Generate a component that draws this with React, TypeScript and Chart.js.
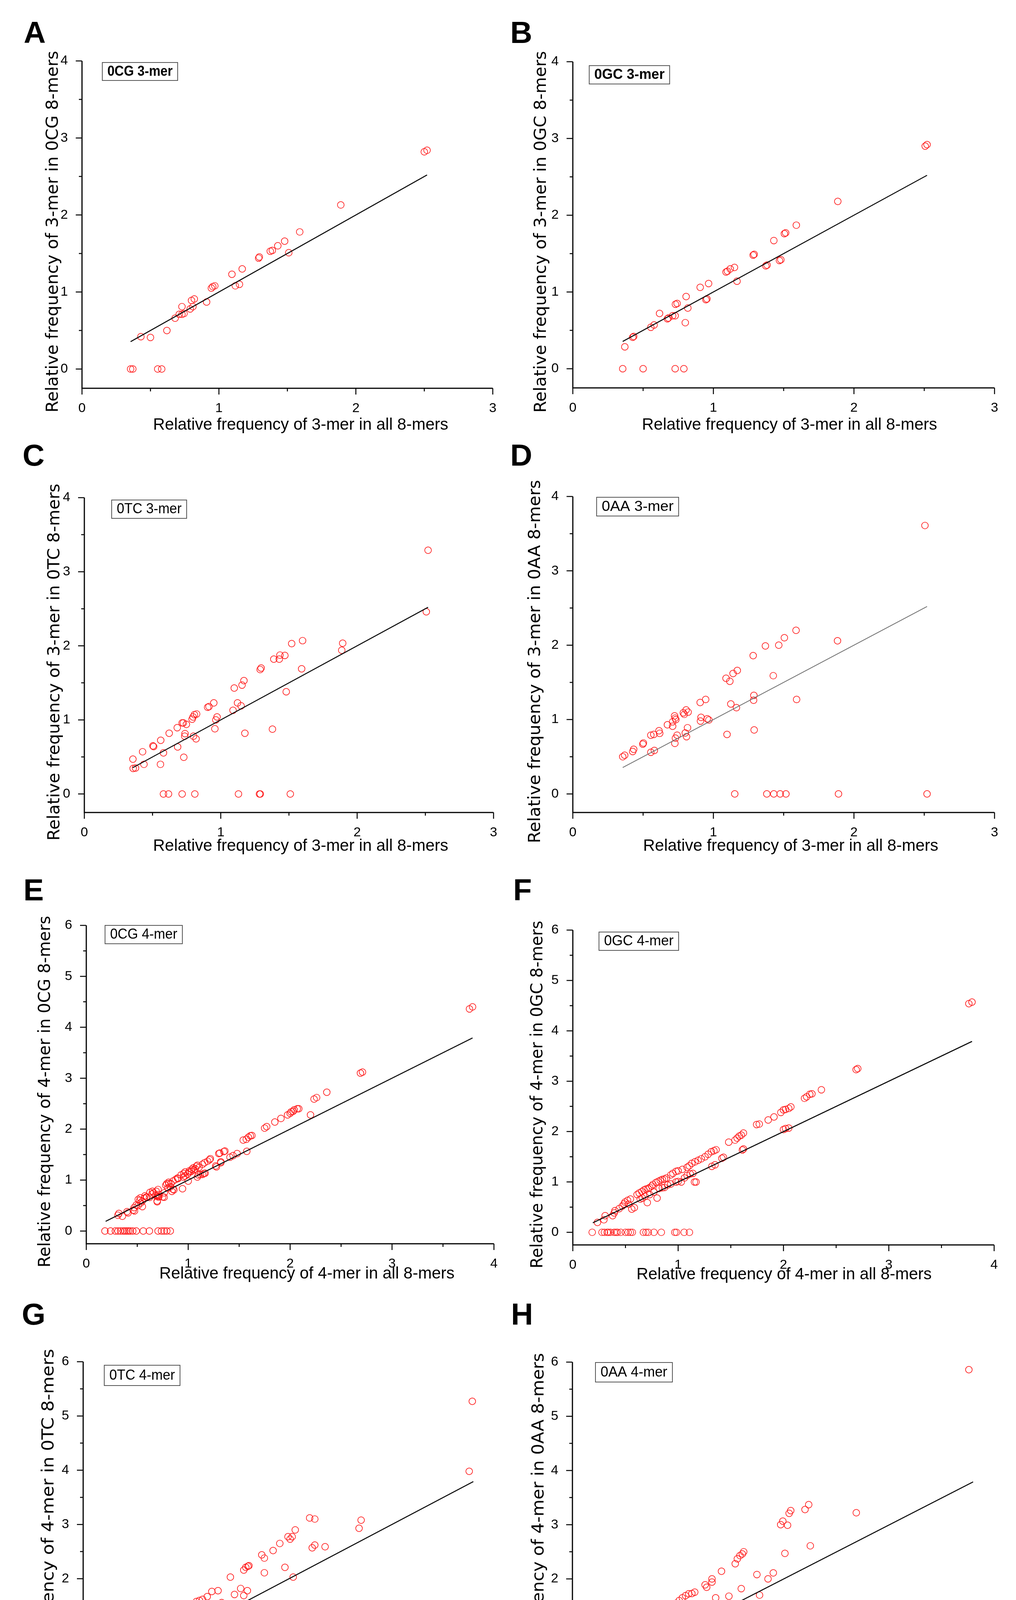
import React, { useEffect, useRef } from "react";
import { Chart, registerables } from "chart.js";
Chart.register(...registerables);

type Pt = [number, number];

// ---------- axis ticks ----------
const xTicks3mer = [0, 1, 2, 3];
const yTicks3mer = [0, 1, 2, 3, 4];
const xTicks4mer = [0, 1, 2, 3, 4];
const yTicks4mer = [0, 1, 2, 3, 4, 5, 6];

// ---------- fitted y = x line ranges ----------
const fitLine3mer = [0.355, 2.52];
const fitLine4mer = [0.19, 3.79];

// ---------- Panel A: 0CG 3-mer ----------
const pointsA: Pt[] = [
  [0.355, 0], [0.371, 0], [0.553, 0], [0.582, 0], [0.43, 0.42], [0.5, 0.41], [0.62, 0.5], [0.68, 0.66],
  [0.71, 0.71], [0.73, 0.71], [0.745, 0.72], [0.73, 0.81], [0.79, 0.78], [0.81, 0.81], [0.8, 0.89],
  [0.82, 0.91], [0.91, 0.87], [0.945, 1.05], [0.955, 1.07], [0.97, 1.08], [1.095, 1.23], [1.12, 1.08],
  [1.15, 1.1], [1.17, 1.3], [1.29, 1.44], [1.295, 1.455], [1.375, 1.53], [1.39, 1.54], [1.43, 1.6],
  [1.48, 1.66], [1.51, 1.51], [1.59, 1.78], [1.89, 2.13], [2.5, 2.82], [2.52, 2.84],
];

// ---------- Panel B: 0GC 3-mer ----------
const pointsB: Pt[] = [
  [0.355, 0], [0.5, 0], [0.728, 0], [0.79, 0], [0.37, 0.285], [0.426, 0.41], [0.433, 0.42], [0.555, 0.54],
  [0.578, 0.57], [0.617, 0.72], [0.673, 0.65], [0.68, 0.66], [0.71, 0.69], [0.728, 0.69], [0.73, 0.84],
  [0.742, 0.85], [0.8, 0.6], [0.806, 0.94], [0.818, 0.79], [0.906, 1.06], [0.947, 0.9], [0.954, 0.91],
  [0.966, 1.11], [1.09, 1.26], [1.1, 1.27], [1.12, 1.3], [1.15, 1.32], [1.168, 1.14], [1.283, 1.48],
  [1.29, 1.49], [1.373, 1.34], [1.382, 1.35], [1.43, 1.67], [1.47, 1.41], [1.48, 1.42], [1.505, 1.76],
  [1.514, 1.77], [1.59, 1.87], [1.885, 2.18], [2.507, 2.9], [2.52, 2.92],
];

// ---------- Panel C: 0TC 3-mer ----------
const zerosC = [0.58, 0.617, 0.717, 0.81, 1.13, 1.284, 1.29, 1.51];
const pointsC: Pt[] = [
  [0.356, 0.47], [0.358, 0.345], [0.375, 0.35], [0.427, 0.57], [0.437, 0.4], [0.503, 0.65], [0.508, 0.64],
  [0.558, 0.4], [0.56, 0.725], [0.58, 0.555], [0.622, 0.82], [0.681, 0.895], [0.684, 0.635], [0.717, 0.96],
  [0.726, 0.96], [0.729, 0.495], [0.736, 0.78], [0.738, 0.815], [0.748, 0.94], [0.79, 1.01], [0.797, 1.04],
  [0.807, 1.07], [0.8, 0.78], [0.819, 0.745], [0.823, 1.08], [0.904, 1.17], [0.914, 1.18], [0.949, 1.23],
  [0.957, 0.88], [0.964, 1.0], [0.973, 1.04], [1.09, 1.13], [1.099, 1.43], [1.123, 1.23], [1.149, 1.19],
  [1.156, 1.47], [1.17, 1.53], [1.177, 0.82], [1.289, 1.68], [1.296, 1.7], [1.379, 0.875], [1.389, 1.82],
  [1.429, 1.82], [1.434, 1.875], [1.47, 1.87], [1.48, 1.38], [1.52, 2.03], [1.593, 1.69], [1.6, 2.07],
  [1.887, 1.94], [1.894, 2.035], [2.507, 2.46], [2.52, 3.29],
];

// ---------- Panel D: 0AA 3-mer ----------
const zerosD = [1.152, 1.38, 1.43, 1.475, 1.516, 1.89, 2.52];
const pointsD: Pt[] = [
  [0.355, 0.5], [0.369, 0.52], [0.426, 0.57], [0.433, 0.6], [0.498, 0.67], [0.502, 0.685], [0.555, 0.56],
  [0.555, 0.79], [0.576, 0.8], [0.58, 0.585], [0.613, 0.85], [0.618, 0.815], [0.673, 0.93], [0.71, 0.91],
  [0.71, 0.97], [0.724, 1.05], [0.728, 1.02], [0.733, 1.0], [0.726, 0.68], [0.73, 0.75], [0.742, 0.79],
  [0.786, 1.09], [0.793, 1.07], [0.806, 1.13], [0.82, 1.1], [0.8, 0.82], [0.809, 0.77], [0.816, 0.89],
  [0.908, 0.98], [0.912, 1.03], [0.906, 1.23], [0.945, 1.27], [0.956, 1.01], [0.968, 0.995], [1.09, 1.555],
  [1.097, 0.8], [1.117, 1.515], [1.124, 1.21], [1.14, 1.62], [1.17, 1.66], [1.164, 1.16], [1.283, 1.86],
  [1.286, 1.26], [1.288, 1.325], [1.29, 0.86], [1.37, 1.99], [1.426, 1.59], [1.465, 2.0], [1.505, 2.1],
  [1.588, 2.2], [1.592, 1.27], [1.883, 2.06], [2.505, 3.61],
];

// ---------- Panel E: 0CG 4-mer ----------
const zerosE = [0.183, 0.238, 0.285, 0.311, 0.337, 0.362, 0.379, 0.397, 0.414, 0.431, 0.456, 0.49, 0.559,
  0.619, 0.704, 0.738, 0.764, 0.79, 0.824];
const pointsE: Pt[] = [
  [0.31, 0.31], [0.32, 0.345], [0.354, 0.29], [0.4, 0.38], [0.41, 0.357], [0.46, 0.41], [0.473, 0.395],
  [0.47, 0.46], [0.49, 0.51], [0.508, 0.5], [0.51, 0.62], [0.525, 0.6], [0.533, 0.55], [0.55, 0.587],
  [0.53, 0.65], [0.55, 0.48], [0.57, 0.645], [0.576, 0.69], [0.59, 0.67], [0.593, 0.66], [0.62, 0.66],
  [0.625, 0.76], [0.644, 0.727], [0.65, 0.78], [0.66, 0.75], [0.68, 0.7], [0.687, 0.778], [0.695, 0.59],
  [0.696, 0.69], [0.696, 0.574], [0.704, 0.816], [0.705, 0.67], [0.71, 0.715], [0.713, 0.676], [0.75, 0.67],
  [0.764, 0.663], [0.765, 0.75], [0.78, 0.9], [0.79, 0.93], [0.8, 0.842], [0.807, 0.957], [0.81, 0.93],
  [0.824, 0.867], [0.83, 0.93], [0.84, 0.778], [0.85, 0.82], [0.85, 0.98], [0.86, 0.81], [0.875, 1.01],
  [0.895, 1.04], [0.9, 1.03], [0.944, 0.83], [0.93, 1.1], [0.952, 1.06], [0.955, 1.13], [0.969, 1.08],
  [0.97, 1.16], [0.995, 1.12], [1.0, 0.98], [1.01, 1.18], [1.01, 1.15], [1.03, 1.17], [1.035, 1.21],
  [1.05, 1.24], [1.055, 1.2], [1.07, 1.22], [1.08, 1.27], [1.09, 1.29], [1.09, 1.06], [1.1, 1.1],
  [1.106, 1.25], [1.12, 1.11], [1.14, 1.31], [1.14, 1.11], [1.155, 1.13], [1.16, 1.34], [1.166, 1.135],
  [1.19, 1.37], [1.21, 1.4], [1.217, 1.42], [1.27, 1.28], [1.277, 1.26], [1.3, 1.52], [1.31, 1.53],
  [1.32, 1.36], [1.32, 1.34], [1.35, 1.56], [1.36, 1.57], [1.41, 1.45], [1.44, 1.48], [1.48, 1.52],
  [1.54, 1.785], [1.57, 1.8], [1.575, 1.565], [1.59, 1.84], [1.61, 1.87], [1.625, 1.875], [1.75, 2.02],
  [1.77, 2.05], [1.85, 2.14], [1.91, 2.21], [1.975, 2.28], [2.0, 2.31], [2.01, 2.34], [2.03, 2.35],
  [2.04, 2.38], [2.07, 2.4], [2.085, 2.4], [2.2, 2.28], [2.235, 2.59], [2.26, 2.62], [2.36, 2.725],
  [2.69, 3.1], [2.71, 3.12], [3.76, 4.36], [3.79, 4.4],
];

// ---------- Panel F: 0GC 4-mer ----------
const zerosF = [0.184, 0.277, 0.3, 0.326, 0.338, 0.357, 0.393, 0.41, 0.424, 0.455, 0.5, 0.525, 0.547, 0.565,
  0.67, 0.695, 0.716, 0.77, 0.84, 0.968, 0.984, 1.057, 1.107];
const pointsF: Pt[] = [
  [0.234, 0.197], [0.295, 0.25], [0.307, 0.33], [0.378, 0.33], [0.393, 0.385], [0.4, 0.43], [0.44, 0.47],
  [0.47, 0.52], [0.486, 0.564], [0.495, 0.6], [0.52, 0.635], [0.547, 0.66], [0.56, 0.46], [0.584, 0.49],
  [0.53, 0.56], [0.61, 0.75], [0.63, 0.78], [0.655, 0.81], [0.676, 0.84], [0.695, 0.86], [0.716, 0.87],
  [0.73, 0.89], [0.75, 0.92], [0.76, 0.95], [0.64, 0.66], [0.66, 0.68], [0.685, 0.715], [0.707, 0.59],
  [0.73, 0.75], [0.77, 0.8], [0.8, 0.68], [0.79, 0.99], [0.81, 1.01], [0.83, 1.03], [0.85, 1.05],
  [0.87, 1.06], [0.89, 1.08], [0.82, 0.87], [0.85, 0.885], [0.87, 0.89], [0.9, 0.94], [0.93, 0.96],
  [0.93, 1.14], [0.95, 1.17], [0.98, 1.21], [1.0, 1.22], [1.04, 1.25], [0.98, 1.0], [1.0, 1.01],
  [1.03, 1.0], [1.06, 1.08], [1.085, 1.13], [1.115, 1.16], [1.14, 1.17], [1.085, 1.29], [1.105, 1.32],
  [1.13, 1.37], [1.155, 1.0], [1.17, 1.0], [1.16, 1.4], [1.19, 1.43], [1.22, 1.46], [1.255, 1.5],
  [1.285, 1.55], [1.315, 1.6], [1.34, 1.62], [1.36, 1.64], [1.32, 1.31], [1.35, 1.34], [1.415, 1.47],
  [1.43, 1.49], [1.48, 1.79], [1.54, 1.83], [1.56, 1.87], [1.58, 1.91], [1.6, 1.93], [1.62, 1.97],
  [1.61, 1.635], [1.62, 1.655], [1.745, 2.14], [1.77, 2.15], [1.855, 2.23], [1.91, 2.29], [1.975, 2.38],
  [2.0, 2.43], [2.02, 2.44], [2.05, 2.46], [2.07, 2.49], [2.0, 2.04], [2.02, 2.06], [2.05, 2.07],
  [2.2, 2.66], [2.22, 2.69], [2.25, 2.74], [2.27, 2.75], [2.36, 2.83], [2.69, 3.23], [2.705, 3.25],
  [3.76, 4.54], [3.79, 4.57],
];

// ---------- Panel G: 0TC 4-mer ----------
const zerosG = [0.37, 0.39, 0.4, 0.42, 0.44, 0.456, 0.47, 0.5, 0.54, 0.61, 0.627, 0.646, 0.665, 0.684, 0.7,
  0.72, 0.74, 0.8, 0.815, 0.83, 0.846, 0.877, 0.9, 0.924, 0.946, 0.97, 0.996, 1.017, 1.08, 1.14, 1.205,
  1.25, 1.33, 1.41, 1.47, 1.55, 1.56, 1.845, 1.895, 2.04, 2.05, 2.18];
const pointsG: Pt[] = [
  [0.175, 0.19], [0.23, 0.26], [0.27, 0.4], [0.3, 0.44], [0.33, 0.49], [0.36, 0.54], [0.39, 0.6],
  [0.42, 0.64], [0.456, 0.68], [0.49, 0.73], [0.52, 0.75], [0.55, 0.78], [0.61, 0.88], [0.64, 0.92],
  [0.675, 0.97], [0.705, 1.02], [0.74, 1.06], [0.77, 1.1], [0.8, 1.14], [0.83, 1.18], [0.86, 1.23],
  [0.89, 1.28], [0.92, 1.34], [0.955, 1.38], [0.986, 1.42], [1.02, 1.47], [1.05, 1.51], [1.08, 1.54],
  [1.1, 1.58], [1.13, 1.6], [1.16, 1.62], [1.205, 1.67], [1.25, 1.765], [1.31, 1.78], [1.43, 2.03],
  [1.56, 2.16], [1.58, 2.21], [1.6, 2.23], [1.61, 2.24], [1.735, 2.44], [1.76, 2.38], [1.845, 2.52],
  [1.91, 2.65], [1.99, 2.775], [2.01, 2.73], [2.03, 2.775], [2.06, 2.9], [2.2, 3.12], [2.25, 3.1],
  [2.68, 2.93], [2.7, 3.08],
  [0.315, 0.38], [0.36, 0.4], [0.41, 0.42], [0.44, 0.38], [0.456, 0.47], [0.51, 0.42], [0.49, 0.52],
  [0.53, 0.575], [0.565, 0.575], [0.596, 0.62], [0.64, 0.66], [0.69, 0.605], [0.72, 0.68], [0.74, 0.73],
  [0.78, 0.62], [0.8, 0.84], [0.83, 0.79], [0.877, 0.73], [0.89, 0.945], [0.92, 0.87], [0.955, 0.955],
  [0.986, 1.01], [1.01, 0.815], [1.03, 1.1], [1.05, 1.21], [1.08, 0.85], [1.095, 1.07], [1.1, 0.81],
  [1.1, 1.27], [1.14, 1.18], [1.15, 1.08], [1.16, 1.33], [1.18, 1.3], [1.3, 1.45], [1.34, 1.4],
  [1.345, 1.56], [1.47, 1.71], [1.53, 1.82], [1.56, 1.69], [1.595, 1.78], [1.6, 1.36], [1.61, 1.285],
  [1.76, 2.11], [1.96, 2.21], [1.985, 1.45], [2.04, 2.03], [2.225, 2.57], [2.25, 2.62], [2.35, 2.59],
  [3.75, 3.98], [3.78, 5.27],
];

// ---------- Panel H: 0AA 4-mer ----------
const zerosH = [0.79, 0.82, 0.89, 0.92, 0.94, 0.96, 0.985, 1.0, 1.087, 1.1, 1.117, 1.157, 1.26, 1.3, 1.32,
  1.347, 1.43, 1.48, 1.567, 1.585, 1.607, 1.62, 1.77, 1.85, 1.91, 1.99, 2.0, 2.025, 2.04, 2.07, 2.2, 2.26,
  2.36, 2.7, 3.78];
const pointsH: Pt[] = [
  [0.19, 0.27], [0.245, 0.345], [0.29, 0.42], [0.32, 0.47], [0.35, 0.51], [0.38, 0.555], [0.41, 0.62],
  [0.44, 0.66], [0.47, 0.72], [0.505, 0.77], [0.535, 0.83], [0.566, 0.87], [0.597, 0.93], [0.627, 0.97],
  [0.66, 1.01], [0.68, 1.04], [0.7, 1.08], [0.735, 1.145], [0.765, 1.19], [0.796, 1.23], [0.826, 1.275],
  [0.857, 1.31], [0.89, 1.36], [0.92, 1.43], [0.95, 1.49], [0.98, 1.55], [1.01, 1.6], [1.04, 1.65],
  [1.07, 1.69], [1.1, 1.725], [1.13, 1.73], [1.157, 1.755], [1.255, 1.89], [1.27, 1.845], [1.32, 2.0],
  [1.32, 1.94], [1.41, 2.14], [1.54, 2.28], [1.56, 2.37], [1.585, 2.43], [1.607, 2.46], [1.62, 2.5],
  [1.97, 3.0], [1.99, 3.065], [2.035, 2.99], [2.05, 3.21], [2.065, 3.26], [2.2, 3.28], [2.235, 3.37],
  [2.685, 3.22],
  [0.306, 0.34], [0.367, 0.42], [0.41, 0.47], [0.46, 0.51], [0.505, 0.555], [0.55, 0.62], [0.597, 0.685],
  [0.64, 0.74], [0.69, 0.77], [0.735, 0.82], [0.765, 0.62], [0.78, 0.87], [0.81, 0.93], [0.857, 0.97],
  [0.89, 1.01], [0.92, 1.145], [0.95, 0.895], [0.964, 1.08], [0.995, 1.19], [1.025, 1.08], [1.04, 0.78],
  [1.065, 0.925], [1.095, 1.21], [1.107, 1.32], [1.125, 0.99], [1.18, 1.385], [1.187, 1.07], [1.218, 1.34],
  [1.26, 1.43], [1.31, 1.47], [1.355, 1.65], [1.36, 1.47], [1.48, 1.68], [1.56, 1.4], [1.58, 1.3],
  [1.597, 1.82], [1.745, 2.08], [1.77, 1.7], [1.85, 2.0], [1.9, 2.11], [2.01, 2.47], [2.25, 2.61],
  [3.75, 5.86],
];

// ---------- layout / style (absolute page coordinates) ----------
const PAGE_W = 2602;
const PAGE_H = 4522;

interface PanelCfg {
  letter: string;
  label: string;
  boldLabel: boolean;
  yTitle: string;
  xTitle: string;
  points: Pt[];
  zeros: number[];
  fit: number[];
  xTicks: number[];
  yTicks: number[];
  lineColor: string;
  lineWidth: number;
  canvas: [number, number, number, number];
  area: [number, number, number, number];
  letterPos: [number, number];
  box: [number, number, number, number];
  xTitlePos: [number, number];
  yTitleX: number;
  yTitleLen: number;
}

const T3 = "Relative frequency of 3-mer in all 8-mers";
const T4 = "Relative frequency of 4-mer in all 8-mers";

const panels: PanelCfg[] = [
  { letter: "A", label: "0CG 3-mer", boldLabel: true, yTitle: "Relative frequency of 3-mer in 0CG 8-mers", xTitle: T3,
    points: pointsA, zeros: [], fit: fitLine3mer, xTicks: xTicks3mer, yTicks: yTicks3mer, lineColor: "#000", lineWidth: 2.5,
    canvas: [0, 0, 1300, 1120], area: [210, 156, 1262, 994], letterPos: [89, 88], box: [262, 160, 455, 206],
    xTitlePos: [770, 1088], yTitleX: 137, yTitleLen: 926 },
  { letter: "B", label: "0GC 3-mer", boldLabel: true, yTitle: "Relative frequency of 3-mer in 0GC 8-mers", xTitle: T3,
    points: pointsB, zeros: [], fit: fitLine3mer, xTicks: xTicks3mer, yTicks: yTicks3mer, lineColor: "#000", lineWidth: 2.5,
    canvas: [1300, 0, 1302, 1120], area: [1467, 158, 2547, 993], letterPos: [1335, 88], box: [1509, 168, 1715, 215],
    xTitlePos: [2022, 1088], yTitleX: 1387, yTitleLen: 926 },
  { letter: "C", label: "0TC 3-mer", boldLabel: false, yTitle: "Relative frequency of 3-mer in 0TC 8-mers", xTitle: T3,
    points: pointsC, zeros: zerosC, fit: fitLine3mer, xTicks: xTicks3mer, yTicks: yTicks3mer, lineColor: "#000", lineWidth: 2.5,
    canvas: [0, 1120, 1300, 1095], area: [216, 1274, 1264, 2080], letterPos: [86, 1170], box: [286, 1280, 478, 1327],
    xTitlePos: [770, 2166], yTitleX: 141, yTitleLen: 914 },
  { letter: "D", label: "0AA 3-mer", boldLabel: false, yTitle: "Relative frequency of 3-mer in 0AA 8-mers", xTitle: T3,
    points: pointsD, zeros: zerosD, fit: fitLine3mer, xTicks: xTicks3mer, yTicks: yTicks3mer, lineColor: "#6f6f6f", lineWidth: 2,
    canvas: [1300, 1120, 1302, 1095], area: [1467, 1271, 2547, 2080], letterPos: [1335, 1170], box: [1528, 1273, 1738, 1321],
    xTitlePos: [2025, 2166], yTitleX: 1372, yTitleLen: 930 },
  { letter: "E", label: "0CG 4-mer", boldLabel: false, yTitle: "Relative frequency of 4-mer in 0CG 8-mers", xTitle: T4,
    points: pointsE, zeros: zerosE, fit: fitLine4mer, xTicks: xTicks4mer, yTicks: yTicks4mer, lineColor: "#000", lineWidth: 2.5,
    canvas: [0, 2215, 1300, 1105], area: [221, 2369, 1265, 3184], letterPos: [86, 2283], box: [269, 2369, 467, 2416],
    xTitlePos: [786, 3261], yTitleX: 117, yTitleLen: 900 },
  { letter: "F", label: "0GC 4-mer", boldLabel: false, yTitle: "Relative frequency of 4-mer in 0GC 8-mers", xTitle: T4,
    points: pointsF, zeros: zerosF, fit: fitLine4mer, xTicks: xTicks4mer, yTicks: yTicks4mer, lineColor: "#000", lineWidth: 2.5,
    canvas: [1300, 2215, 1302, 1105], area: [1467, 2381, 2546, 3187], letterPos: [1338, 2283], box: [1534, 2386, 1738, 2433],
    xTitlePos: [2008, 3263], yTitleX: 1378, yTitleLen: 890 },
  { letter: "G", label: "0TC 4-mer", boldLabel: false, yTitle: "Relative frequency of 4-mer in 0TC 8-mers", xTitle: T4,
    points: pointsG, zeros: zerosG, fit: fitLine4mer, xTicks: xTicks4mer, yTicks: yTicks4mer, lineColor: "#000", lineWidth: 2.5,
    canvas: [0, 3320, 1300, 1202], area: [213, 3486, 1276, 4354], letterPos: [86, 3369], box: [267, 3495, 461, 3547],
    xTitlePos: [766, 4440], yTitleX: 126, yTitleLen: 970 },
  { letter: "H", label: "0AA 4-mer", boldLabel: false, yTitle: "Relative frequency of 4-mer in 0AA 8-mers", xTitle: T4,
    points: pointsH, zeros: zerosH, fit: fitLine4mer, xTicks: xTicks4mer, yTicks: yTicks4mer, lineColor: "#000", lineWidth: 2.5,
    canvas: [1300, 3320, 1302, 1202], area: [1466, 3487, 2549, 4354], letterPos: [1337, 3369], box: [1525, 3488, 1722, 3538],
    xTitlePos: [2050, 4440], yTitleX: 1381, yTitleLen: 950 },
];

const X_TITLE_W = 756;

function drawFitted(ctx: CanvasRenderingContext2D, text: string, cx: number, cy: number, font: string, targetW: number, rotate: boolean) {
  ctx.save();
  ctx.font = font;
  const w = ctx.measureText(text).width;
  const sx = targetW / w;
  ctx.translate(cx, cy);
  if (rotate) ctx.rotate(-Math.PI / 2);
  ctx.scale(sx, 1);
  ctx.textAlign = "center";
  ctx.textBaseline = "middle";
  ctx.fillStyle = "#000";
  ctx.fillText(text, 0, 0);
  ctx.restore();
}

function makeDecor(cfg: PanelCfg) {
  return {
    id: "decor" + cfg.letter,
    afterDraw(chart: any) {
      const ctx: CanvasRenderingContext2D = chart.ctx;
      const { left, right, top, bottom } = chart.chartArea;
      const xs = chart.scales.x;
      const ys = chart.scales.y;
      const ox = cfg.canvas[0];
      const oy = cfg.canvas[1];
      ctx.save();
      // axes
      ctx.strokeStyle = "#000";
      ctx.lineWidth = 3;
      ctx.beginPath();
      ctx.moveTo(left, top);
      ctx.lineTo(left, bottom);
      ctx.lineTo(right, bottom);
      ctx.stroke();
      // ticks (major at integers, minor at halves)
      ctx.lineWidth = 2.5;
      const xMax = cfg.xTicks[cfg.xTicks.length - 1];
      const yMax = cfg.yTicks[cfg.yTicks.length - 1];
      ctx.beginPath();
      for (let i = 0; i <= xMax * 2; i++) {
        const px = xs.getPixelForValue(i / 2);
        const len = i % 2 === 0 ? 16 : 8;
        ctx.moveTo(px, bottom);
        ctx.lineTo(px, bottom + len);
      }
      for (let i = 0; i <= yMax * 2; i++) {
        const py = ys.getPixelForValue(i / 2);
        const len = i % 2 === 0 ? 16 : 8;
        ctx.moveTo(left, py);
        ctx.lineTo(left - len, py);
      }
      ctx.stroke();
      // panel letter
      ctx.fillStyle = "#000";
      ctx.font = 'bold 78px "Liberation Sans", Arial, sans-serif';
      ctx.textAlign = "center";
      ctx.textBaseline = "middle";
      ctx.fillText(cfg.letter, cfg.letterPos[0] - ox, cfg.letterPos[1] - oy);
      // annotation box
      const [bx1, by1, bx2, by2] = cfg.box;
      ctx.fillStyle = "#fff";
      ctx.fillRect(bx1 - ox, by1 - oy, bx2 - bx1, by2 - by1);
      ctx.strokeStyle = "#555";
      ctx.lineWidth = 2;
      ctx.strokeRect(bx1 - ox, by1 - oy, bx2 - bx1, by2 - by1);
      drawFitted(ctx, cfg.label, (bx1 + bx2) / 2 - ox, (by1 + by2) / 2 - oy + 1,
        (cfg.boldLabel ? "bold " : "") + '36px "Liberation Sans", Arial, sans-serif', bx2 - bx1 - 26, false);
      // axis titles
      drawFitted(ctx, cfg.xTitle, cfg.xTitlePos[0] - ox, cfg.xTitlePos[1] - oy,
        '42px "Liberation Sans", Arial, sans-serif', X_TITLE_W, false);
      drawFitted(ctx, cfg.yTitle, cfg.yTitleX - ox, (top + bottom) / 2 + 18,
        '42px "DejaVu Sans", "Open Sans", sans-serif', cfg.yTitleLen, true);
      ctx.restore();
    },
  };
}

function Panel({ cfg }: { cfg: PanelCfg }) {
  const ref = useRef<HTMLCanvasElement>(null);
  useEffect(() => {
    const canvas = ref.current;
    if (!canvas) return;
    const [cx, cy, cw, ch] = cfg.canvas;
    const [aL, aT, aR, aB] = cfg.area;
    const allPts: Pt[] = [...cfg.points, ...cfg.zeros.map((x) => [x, 0] as Pt)];
    const tickFont = { family: '"Liberation Sans", Arial, sans-serif', size: 34 };
    const chart = new Chart(canvas, {
      type: "scatter",
      data: {
        datasets: [
          {
            label: "fit",
            data: cfg.fit.map((v) => ({ x: v, y: v })),
            showLine: true,
            borderColor: cfg.lineColor,
            borderWidth: cfg.lineWidth,
            pointRadius: 0,
            fill: false,
          } as any,
          {
            label: cfg.label,
            data: allPts.map(([x, y]) => ({ x, y })),
            showLine: false,
            pointRadius: 8.5,
            pointBorderWidth: 1.7,
            pointBorderColor: "#ff1a1a",
            pointBackgroundColor: "rgba(0,0,0,0)",
          } as any,
        ],
      },
      options: {
        animation: false,
        responsive: false,
        devicePixelRatio: 1,
        events: [],
        layout: { padding: { left: 0, top: aT - cy, right: cx + cw - aR, bottom: 0 } },
        plugins: { legend: { display: false }, tooltip: { enabled: false } },
        scales: {
          x: {
            type: "linear",
            min: 0,
            max: cfg.xTicks[cfg.xTicks.length - 1],
            afterFit: (s: any) => { s.height = cy + ch - aB; },
            afterBuildTicks: (s: any) => { s.ticks = cfg.xTicks.map((v) => ({ value: v })); },
            grid: { display: false },
            border: { display: false },
            ticks: { padding: 23, font: tickFont, color: "#000", maxRotation: 0, autoSkip: false, callback: (v: any) => String(v) },
          },
          y: {
            type: "linear",
            min: -0.25,
            max: cfg.yTicks[cfg.yTicks.length - 1],
            afterFit: (s: any) => { s.width = aL - cx; },
            afterBuildTicks: (s: any) => { s.ticks = cfg.yTicks.map((v) => ({ value: v })); },
            grid: { display: false },
            border: { display: false },
            ticks: { padding: 28, font: tickFont, color: "#000", autoSkip: false, callback: (v: any) => String(v) },
          },
        },
      } as any,
      plugins: [makeDecor(cfg)],
    });
    return () => chart.destroy();
  }, [cfg]);
  const [cx, cy, cw, ch] = cfg.canvas;
  return (
    <canvas
      ref={ref}
      width={cw}
      height={ch}
      style={{ position: "absolute", left: cx, top: cy, width: cw, height: ch }}
    />
  );
}

export default function App() {
  useEffect(() => {
    document.body.style.margin = "0";
  }, []);
  return (
    <div style={{ position: "absolute", left: 0, top: 0, width: PAGE_W, height: PAGE_H, background: "#fff", overflow: "hidden" }}>
      {panels.map((p) => (
        <Panel key={p.letter} cfg={p} />
      ))}
    </div>
  );
}
